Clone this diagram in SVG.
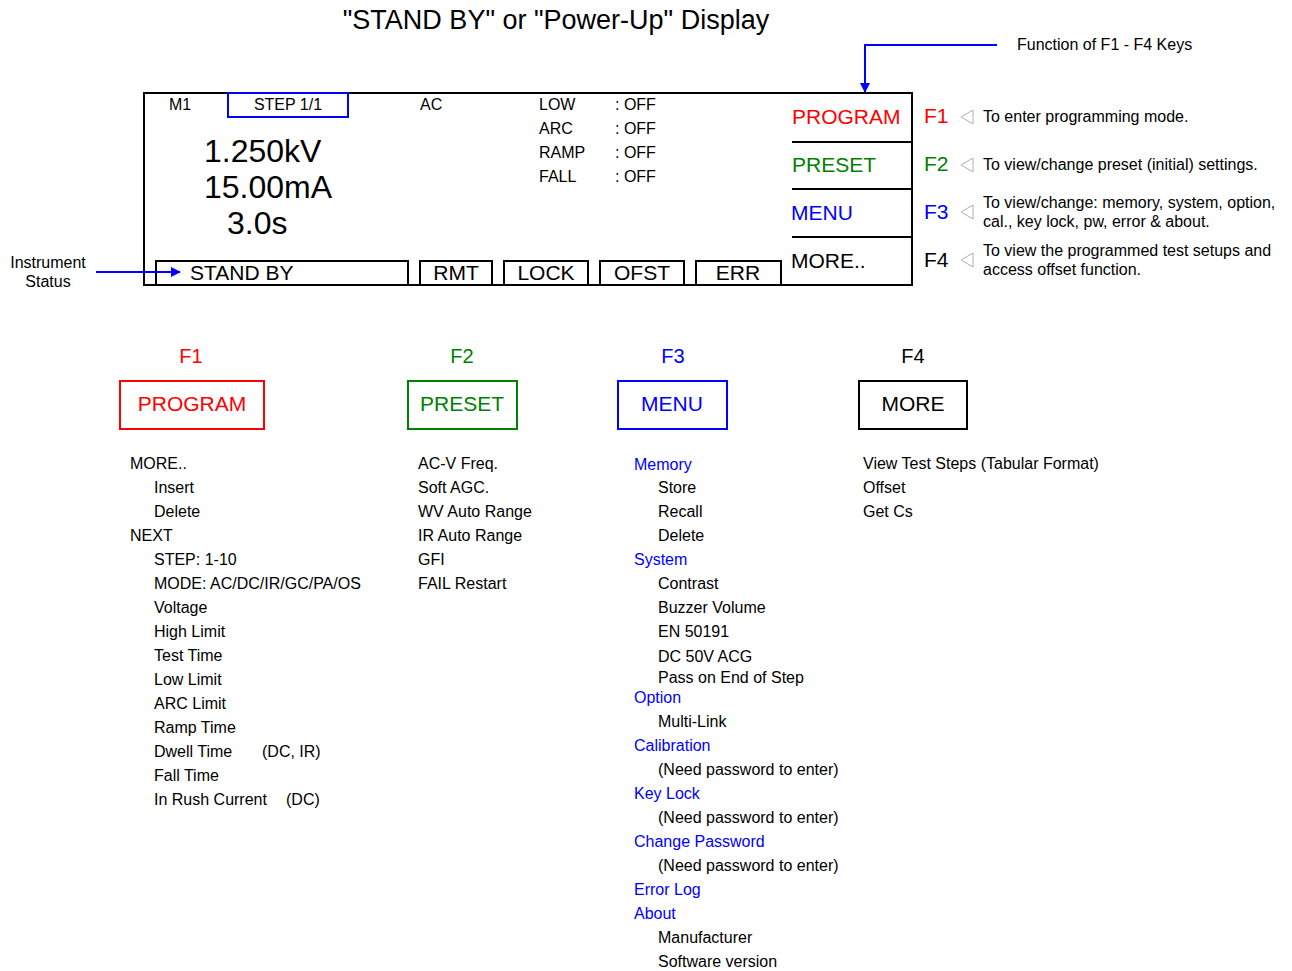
<svg xmlns="http://www.w3.org/2000/svg" width="1292" height="971" viewBox="0 0 1292 971">
<style>
text{font-family:"Liberation Sans",Arial,sans-serif;fill:#000}
.s16{font-size:16px}
.s21{font-size:21px}
.s20{font-size:20px}
.big{font-size:32px}
.red{fill:#ff0000}.grn{fill:#008000}.blu{fill:#0000ff}
.box{fill:none;stroke:#000;stroke-width:2}
.tri{fill:#fff;stroke:#b0b0b0;stroke-width:1}
.mid{text-anchor:middle}
</style>
<defs>
<marker id="ah" markerWidth="10" markerHeight="10" refX="9" refY="5" orient="auto" markerUnits="userSpaceOnUse">
<path d="M0,0 L10,5 L0,10 z" fill="#0000ff"/>
</marker>
</defs>
<rect width="1292" height="971" fill="#fff"/>
<text x="556" y="29" class="mid" style="font-size:27px">"STAND BY" or "Power-Up" Display</text>

<g id="display">
<rect x="144" y="93" width="768" height="192" class="box"/>
<rect x="228" y="93" width="120" height="24" fill="none" stroke="#0000ff" stroke-width="2"/>
<text x="169" y="110" class="s16">M1</text>
<text x="288" y="110" class="s16 mid">STEP 1/1</text>
<text x="420" y="110" class="s16">AC</text>
<text x="539" y="110" class="s16">LOW</text><text x="615" y="110" class="s16">: OFF</text>
<text x="539" y="134" class="s16">ARC</text><text x="615" y="134" class="s16">: OFF</text>
<text x="539" y="158" class="s16">RAMP</text><text x="615" y="158" class="s16">: OFF</text>
<text x="539" y="182" class="s16">FALL</text><text x="615" y="182" class="s16">: OFF</text>
<text x="204" y="162" class="big">1.250kV</text>
<text x="204" y="198" class="big">15.00mA</text>
<text x="227" y="234" class="big">3.0s</text>
<rect x="156" y="261" width="252" height="24" class="box"/>
<rect x="420" y="261" width="72" height="24" class="box"/>
<rect x="504" y="261" width="84" height="24" class="box"/>
<rect x="600" y="261" width="84" height="24" class="box"/>
<rect x="696" y="261" width="85" height="24" class="box"/>
<text x="190" y="280" class="s21">STAND BY</text>
<text x="456" y="280" class="s21 mid">RMT</text>
<text x="546" y="280" class="s21 mid">LOCK</text>
<text x="642" y="280" class="s21 mid">OFST</text>
<text x="738" y="280" class="s21 mid">ERR</text>
<line x1="792" y1="142" x2="912" y2="142" stroke="#000" stroke-width="2"/>
<line x1="792" y1="189" x2="912" y2="189" stroke="#000" stroke-width="2"/>
<line x1="792" y1="237" x2="912" y2="237" stroke="#000" stroke-width="2"/>
<text x="792" y="124" class="s21 red">PROGRAM</text>
<text x="792" y="172" class="s21 grn">PRESET</text>
<text x="791" y="220" class="s21 blu">MENU</text>
<text x="791" y="268" class="s21">MORE..</text>
</g>

<g id="keys">
<text x="924" y="123" class="s21 red">F1</text>
<text x="924" y="171" class="s21 grn">F2</text>
<text x="924" y="219" class="s21 blu">F3</text>
<text x="924" y="267" class="s21">F4</text>
<polygon points="961,117 973,110 973,124" class="tri"/>
<polygon points="961,165 973,158 973,172" class="tri"/>
<polygon points="961,212 973,205 973,219" class="tri"/>
<polygon points="961,260 973,253 973,267" class="tri"/>
<text x="983" y="122" class="s16">To enter programming mode.</text>
<text x="983" y="170" class="s16">To view/change preset (initial) settings.</text>
<text x="983" y="208" class="s16">To view/change: memory, system, option,</text>
<text x="983" y="227" class="s16">cal., key lock, pw, error &amp; about.</text>
<text x="983" y="256" class="s16">To view the programmed test setups and</text>
<text x="983" y="275" class="s16">access offset function.</text>
<text x="1017" y="50" class="s16">Function of F1 - F4 Keys</text>
<text x="48" y="268" class="s16 mid">Instrument</text>
<text x="48" y="287" class="s16 mid">Status</text>
</g>

<g id="connectors">
<polyline points="997,45 865,45 865,92" fill="none" stroke="#0000ff" stroke-width="2" marker-end="url(#ah)"/>
<line x1="96" y1="272" x2="180" y2="272" stroke="#0000ff" stroke-width="2" marker-end="url(#ah)"/>
</g>

<g id="f1">
<text x="191" y="363" class="s20 red mid">F1</text>
<rect x="120" y="381" width="144" height="48" fill="none" stroke="#ff0000" stroke-width="2"/>
<text x="192" y="411" class="s21 red mid">PROGRAM</text>
<g class="s16">
<text x="130" y="469">MORE..</text>
<text x="154" y="493">Insert</text>
<text x="154" y="517">Delete</text>
<text x="130" y="541">NEXT</text>
<text x="154" y="565">STEP: 1-10</text>
<text x="154" y="589">MODE: AC/DC/IR/GC/PA/OS</text>
<text x="154" y="613">Voltage</text>
<text x="154" y="637">High Limit</text>
<text x="154" y="661">Test Time</text>
<text x="154" y="685">Low Limit</text>
<text x="154" y="709">ARC Limit</text>
<text x="154" y="733">Ramp Time</text>
<text x="154" y="757">Dwell Time</text><text x="262" y="757">(DC, IR)</text>
<text x="154" y="781">Fall Time</text>
<text x="154" y="805">In Rush Current</text><text x="286" y="805">(DC)</text>
</g>
</g>

<g id="f2">
<text x="462" y="363" class="s20 grn mid">F2</text>
<rect x="408" y="381" width="109" height="48" fill="none" stroke="#008000" stroke-width="2"/>
<text x="462" y="411" class="s21 grn mid">PRESET</text>
<g class="s16">
<text x="418" y="469">AC-V Freq.</text>
<text x="418" y="493">Soft AGC.</text>
<text x="418" y="517">WV Auto Range</text>
<text x="418" y="541">IR Auto Range</text>
<text x="418" y="565">GFI</text>
<text x="418" y="589">FAIL Restart</text>
</g>
</g>

<g id="f3">
<text x="673" y="363" class="s20 blu mid">F3</text>
<rect x="618" y="381" width="109" height="48" fill="none" stroke="#0000ff" stroke-width="2"/>
<text x="672" y="411" class="s21 blu mid">MENU</text>
<g class="s16">
<text x="634" y="470" class="blu">Memory</text>
<text x="658" y="493">Store</text>
<text x="658" y="517">Recall</text>
<text x="658" y="541">Delete</text>
<text x="634" y="565" class="blu">System</text>
<text x="658" y="589">Contrast</text>
<text x="658" y="613">Buzzer Volume</text>
<text x="658" y="637">EN 50191</text>
<text x="658" y="662">DC 50V ACG</text>
<text x="658" y="683">Pass on End of Step</text>
<text x="634" y="703" class="blu">Option</text>
<text x="658" y="727">Multi-Link</text>
<text x="634" y="751" class="blu">Calibration</text>
<text x="658" y="775">(Need password to enter)</text>
<text x="634" y="799" class="blu">Key Lock</text>
<text x="658" y="823">(Need password to enter)</text>
<text x="634" y="847" class="blu">Change Password</text>
<text x="658" y="871">(Need password to enter)</text>
<text x="634" y="895" class="blu">Error Log</text>
<text x="634" y="919" class="blu">About</text>
<text x="658" y="943">Manufacturer</text>
<text x="658" y="967">Software version</text>
</g>
</g>

<g id="f4">
<text x="913" y="363" class="s20 mid">F4</text>
<rect x="859" y="381" width="108" height="48" class="box"/>
<text x="913" y="411" class="s21 mid">MORE</text>
<g class="s16">
<text x="863" y="469">View Test Steps (Tabular Format)</text>
<text x="863" y="493">Offset</text>
<text x="863" y="517">Get Cs</text>
</g>
</g>
</svg>
